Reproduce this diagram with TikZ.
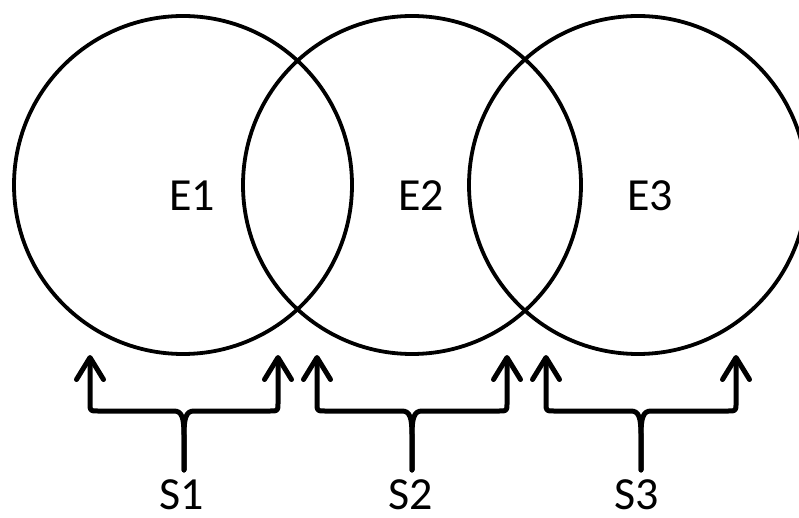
\documentclass[tikz,border=0pt]{standalone}
\usepackage{fontspec}
\setmainfont{Carlito}
\usetikzlibrary{arrows.meta}

\tikzset{
  ring/.style={draw=black, line width=3.8pt},
  label/.style={anchor=base, inner sep=0pt, font=\fontsize{46}{50}\selectfont},
  bracearm/.style={draw=black, line width=5pt, line cap=round, line join=round,
    -{Straight Barb[length=22pt,width=27pt,round]}},
  pics/splitbrace/.style={
    code={
      \coordinate (-stem) at (0,0);
      \coordinate (-left) at (-#1,-115);
      \coordinate (-right) at (#1,-115);
      \draw[bracearm] (-stem) -- (0,-35) .. controls (0,-52) and (-2,-59) .. (-10,-59)
        -- ({-#1+8},-59) .. controls (-#1,-59) .. (-#1,-67) -- (-left);
      \draw[bracearm] (-stem) -- (0,-35) .. controls (0,-52) and (2,-59) .. (10,-59)
        -- ({#1-8},-59) .. controls (#1,-59) .. (#1,-67) -- (-right);
    }
  }
}

\begin{document}
\begin{tikzpicture}[x=1pt, y=-1pt]
  \useasboundingbox (0,0) rectangle (799,518);

  % three overlapping sets
  \draw[ring] (183,185) circle[radius=169pt];
  \draw[ring] (412,185) circle[radius=169pt];
  \draw[ring] (638,185) circle[radius=169pt];

  \node[label] (e1) at (192,211) {E1};
  \node[label] (e2) at (421,211) {E2};
  \node[label] (e3) at (650,211) {E3};

  % braces pointing up at the set boundaries
  \pic (b1) at (184,470) {splitbrace=94};
  \pic (b2) at (412,470) {splitbrace=95};
  \pic (b3) at (641,470) {splitbrace=95};

  \node[label] (s1) at (182,509) {S1};
  \node[label] (s2) at (411,509) {S2};
  \node[label] (s3) at (637,509) {S3};
\end{tikzpicture}
\end{document}
